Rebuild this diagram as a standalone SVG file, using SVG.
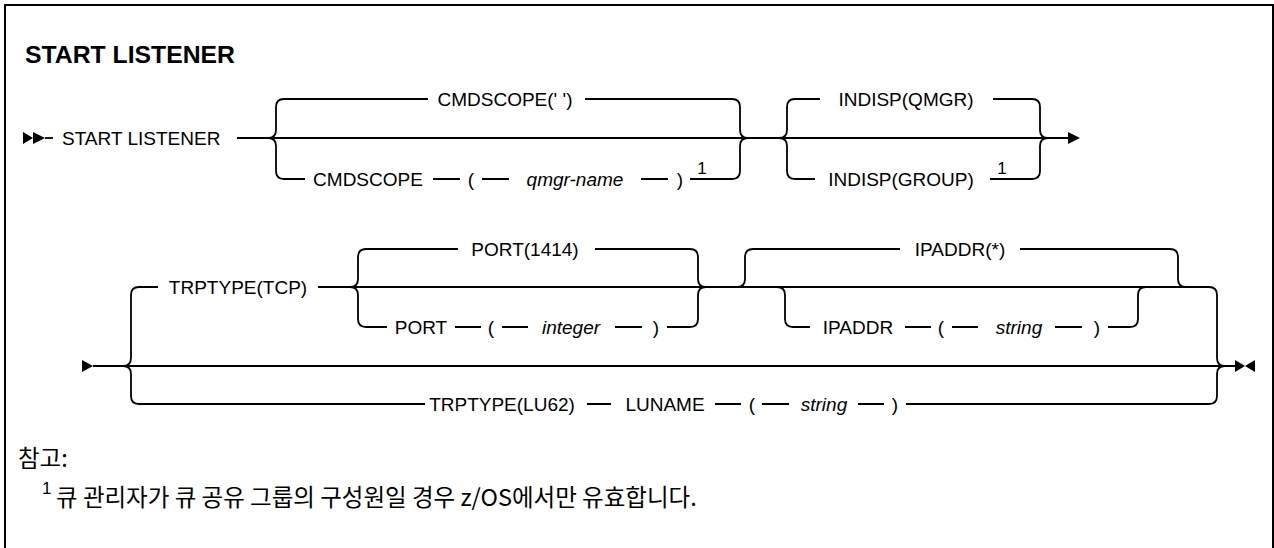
<svg xmlns="http://www.w3.org/2000/svg" width="1274" height="548" viewBox="0 0 1274 548">
<style>
.t{font-family:"Liberation Sans","Noto Sans CJK KR",sans-serif;font-size:19px;fill:#000}
.m{text-anchor:middle}
.i{font-style:italic}
.s{font-size:17px}
.k{font-family:"Noto Sans CJK KR","Liberation Sans",sans-serif;font-size:23.5px;fill:#000}
.ln{fill:none;stroke:#000;stroke-width:1.8}
.ah{fill:#000;stroke:none}
</style>
<rect x="5" y="5" width="1268" height="560" fill="#fff" stroke="#000" stroke-width="2"/>
<g id="title"><text class="t" x="25" y="63" style="font-weight:bold;font-size:23px" textLength="210" lengthAdjust="spacingAndGlyphs">START LISTENER</text></g>

<g id="connectors">
<!-- row 1 -->
<polygon class="ah" points="23,132 33,138 23,144"/>
<polygon class="ah" points="33,132 45,138 33,144"/>
<path class="ln" d="M45,138 H53"/>
<path class="ln" d="M237,138 H1068"/>
<polygon class="ah" points="1068,132 1080,138 1068,144"/>
<path class="ln" d="M268,138 Q276,138 276,130 V107 Q276,99 284,99 H428"/>
<path class="ln" d="M585,99 H732 Q740,99 740,107 V130 Q740,138 748,138"/>
<path class="ln" d="M268,138 Q276,138 276,146 V171 Q276,179 284,179 H305"/>
<path class="ln" d="M433,179 H460 M482,179 H509 M641,179 H668"/>
<path class="ln" d="M690,179 H732 Q740,179 740,171 V146 Q740,138 748,138"/>
<path class="ln" d="M779,138 Q787,138 787,130 V107 Q787,99 795,99 H820"/>
<path class="ln" d="M993,99 H1032 Q1040,99 1040,107 V130 Q1040,138 1048,138"/>
<path class="ln" d="M779,138 Q787,138 787,146 V171 Q787,179 795,179 H815"/>
<path class="ln" d="M990,179 H1032 Q1040,179 1040,171 V146 Q1040,138 1048,138"/>
<!-- row 2 -->
<polygon class="ah" points="82,360 93,366 82,372"/>
<path class="ln" d="M93,366 H1235"/>
<polygon class="ah" points="1235,360 1245,366 1235,372"/>
<polygon class="ah" points="1255,360 1245,366 1255,372"/>
<path class="ln" d="M123,366 Q131,366 131,358 V295 Q131,287 139,287 H158"/>
<path class="ln" d="M318,287 H1209 Q1217,287 1217,295 V358 Q1217,366 1225,366"/>
<path class="ln" d="M123,366 Q131,366 131,374 V396 Q131,404 139,404 H425"/>
<path class="ln" d="M587,404 H611 M715,404 H741 M762,404 H789 M858,404 H884"/>
<path class="ln" d="M906,404 H1209 Q1217,404 1217,396 V374 Q1217,366 1225,366"/>
<path class="ln" d="M350,287 Q358,287 358,279 V257 Q358,249 366,249 H458"/>
<path class="ln" d="M595,249 H690 Q698,249 698,257 V279 Q698,287 706,287"/>
<path class="ln" d="M350,287 Q358,287 358,295 V319 Q358,327 366,327 H387"/>
<path class="ln" d="M455,327 H481 M502,327 H528 M615,327 H642"/>
<path class="ln" d="M667,327 H690 Q698,327 698,319 V295 Q698,287 706,287"/>
<path class="ln" d="M737,287 Q745,287 745,279 V257 Q745,249 753,249 H900"/>
<path class="ln" d="M1020,249 H1170 Q1178,249 1178,257 V279 Q1178,287 1186,287"/>
<path class="ln" d="M777,287 Q785,287 785,295 V319 Q785,327 793,327 H810"/>
<path class="ln" d="M905,327 H931 M952,327 H978 M1055,327 H1082"/>
<path class="ln" d="M1108,327 H1130 Q1138,327 1138,319 V295 Q1138,287 1146,287"/>
</g>

<g id="n-start"><text class="t" x="62" y="145">START LISTENER</text></g>
<g id="n-cmdscope-default"><text class="t m" x="505" y="106">CMDSCOPE(' ')</text></g>
<g id="n-cmdscope"><text class="t m" x="368" y="186">CMDSCOPE</text></g>
<g id="n-cmd-lp"><text class="t m" x="471" y="186">(</text></g>
<g id="n-qmgr"><text class="t m i" x="575" y="186">qmgr-name</text></g>
<g id="n-cmd-rp"><text class="t m" x="680" y="186">)</text></g>
<g id="n-cmd-fn"><text class="t s m" x="702" y="174">1</text></g>
<g id="n-indisp-qmgr"><text class="t m" x="906" y="106">INDISP(QMGR)</text></g>
<g id="n-indisp-group"><text class="t m" x="901" y="186">INDISP(GROUP)</text></g>
<g id="n-indisp-fn"><text class="t s m" x="1002" y="174">1</text></g>

<g id="n-trptype-tcp"><text class="t m" x="238" y="294">TRPTYPE(TCP)</text></g>
<g id="n-port-default"><text class="t m" x="525" y="256">PORT(1414)</text></g>
<g id="n-port"><text class="t m" x="421" y="334">PORT</text></g>
<g id="n-port-lp"><text class="t m" x="491" y="334">(</text></g>
<g id="n-integer"><text class="t m i" x="571" y="334">integer</text></g>
<g id="n-port-rp"><text class="t m" x="656" y="334">)</text></g>
<g id="n-ipaddr-default"><text class="t m" x="960" y="256">IPADDR(*)</text></g>
<g id="n-ipaddr"><text class="t m" x="858" y="334">IPADDR</text></g>
<g id="n-ip-lp"><text class="t m" x="941" y="334">(</text></g>
<g id="n-ip-string"><text class="t m i" x="1019" y="334">string</text></g>
<g id="n-ip-rp"><text class="t m" x="1097" y="334">)</text></g>
<g id="n-trptype-lu62"><text class="t m" x="502" y="411">TRPTYPE(LU62)</text></g>
<g id="n-luname"><text class="t m" x="665" y="411">LUNAME</text></g>
<g id="n-lu-lp"><text class="t m" x="752" y="411">(</text></g>
<g id="n-lu-string"><text class="t m i" x="824" y="411">string</text></g>
<g id="n-lu-rp"><text class="t m" x="895" y="411">)</text></g>

<g id="notes">
<text class="k" x="18" y="467">참고:</text>
<text class="t s" x="42" y="494">1</text>
<text class="k" x="56" y="506">큐 관리자가 큐 공유 그룹의 구성원일 경우 z/OS에서만 유효합니다.</text>
</g>
</svg>
